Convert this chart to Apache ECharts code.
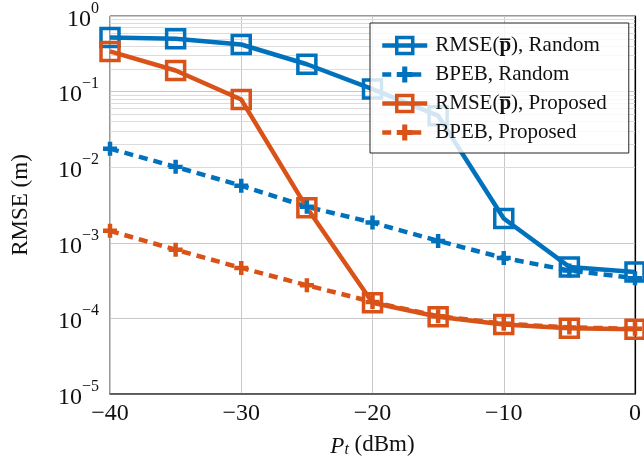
<!DOCTYPE html>
<html>
<head>
<meta charset="utf-8">
<script src="https://cdn.jsdelivr.net/npm/echarts@6/dist/echarts.min.js"></script>
<style>html,body{margin:0;padding:0;background:#fff}#c{width:644px;height:464px}</style>
</head>
<body>
<div id="c"></div>
<script>
const xValues = [-40, -35, -30, -25, -20, -15, -10, -5, 0];
const rmseRandom = [0.52, 0.50, 0.42, 0.23, 0.108, 0.048, 0.0021, 0.00048, 0.00041];
const bpebRandom = [0.0176, 0.0101, 0.0057, 0.0030, 0.00185, 0.00106, 0.00063, 0.00043, 0.00034];
const rmseProposed = [0.34, 0.19, 0.0785, 0.0029, 0.000161, 0.000105, 0.000083, 0.000074, 0.000072];
const bpebProposed = [0.00144, 0.00081, 0.000465, 0.000275, 0.000165, 0.000107, 0.000085, 0.000076, 0.000073];
const seriesNames = ['RMSE(p\u0305), Random', 'BPEB, Random', 'RMSE(p\u0305), Proposed', 'BPEB, Proposed'];
const xTicks = [-40, -30, -20, -10, 0];
const yMin = 1e-5, yMax = 1;

const FONT = 'Liberation Serif';
const BLUE = '#0072BD', ORANGE = '#D95319';
const PLUS = 'path://M0.34,0H0.66V0.34H1V0.66H0.66V1H0.34V0.66H0V0.34H0.34Z';

const minorLines = [];
for (let k = -5; k < 0; k++) {
  for (let m = 2; m <= 9; m++) minorLines.push({ yAxis: m * Math.pow(10, k) });
}
const pairs = arr => xValues.map((x, i) => [x, arr[i]]);

function mk(name, data, color, dashed) {
  return {
    name: name, type: 'line', data: pairs(data), z: 3,
    lineStyle: { color: color, width: 4.5, type: dashed ? [9, 6] : 'solid', cap: 'butt' },
    symbol: dashed ? PLUS : 'rect',
    symbolSize: dashed ? 14 : 18,
    itemStyle: dashed ? { color: color } : { color: 'rgba(255,255,255,0)', borderColor: color, borderWidth: 3.5 },
    emphasis: { disabled: true }, animation: false
  };
}

const series = [
  mk(seriesNames[0], rmseRandom, BLUE, false),
  mk(seriesNames[1], bpebRandom, BLUE, true),
  mk(seriesNames[2], rmseProposed, ORANGE, false),
  mk(seriesNames[3], bpebProposed, ORANGE, true)
];
series[0].markLine = {
  silent: true, symbol: 'none', label: { show: false }, animation: false,
  lineStyle: { color: '#dcdcdc', width: 1, type: 'solid' },
  data: minorLines, z: 1
};

const chart = echarts.init(document.getElementById('c'), null, { renderer: 'canvas' });
chart.setOption({
  animation: false,
  backgroundColor: '#fff',
  grid: { left: 110, right: 4, top: 16, bottom: 70, show: true, borderColor: '#333', borderWidth: 1, backgroundColor: 'transparent' },
  xAxis: {
    type: 'value', min: -40, max: 0, interval: 10,
    name: '{p|P}{t|t} (dBm)', nameLocation: 'middle', nameGap: 38,
    nameTextStyle: { fontFamily: FONT, fontSize: 23, color: '#111',
      rich: {
        p: { fontFamily: FONT, fontSize: 23, fontStyle: 'italic', color: '#111', verticalAlign: 'bottom', lineHeight: 26 },
        t: { fontFamily: FONT, fontSize: 16, fontStyle: 'italic', color: '#111', verticalAlign: 'bottom', lineHeight: 22 }
      } },
    axisLine: { show: true, lineStyle: { color: '#444', width: 1.5 } },
    axisTick: { show: false },
    axisLabel: { fontFamily: FONT, fontSize: 24, color: '#111', margin: 8,
      formatter: v => String(v).replace('-', '\u2212') },
    splitLine: { show: true, lineStyle: { color: '#c8c8c8', width: 1 } }
  },
  yAxis: {
    type: 'log', logBase: 10, min: yMin, max: yMax,
    name: 'RMSE (m)', nameLocation: 'middle', nameGap: 78, nameRotate: 90,
    nameTextStyle: { fontFamily: FONT, fontSize: 23, color: '#111' },
    axisLine: { show: true, lineStyle: { color: '#000', width: 1.2 } },
    axisTick: { show: false },
    axisLabel: {
      fontFamily: FONT, color: '#111', margin: 11,
      formatter: v => {
        const e = Math.round(Math.log10(v));
        return '{a|10}{s|' + (e < 0 ? '\u2212' + (-e) : String(e)) + '}';
      },
      rich: {
        a: { fontFamily: FONT, fontSize: 24, color: '#111', verticalAlign: 'bottom', lineHeight: 31 },
        s: { fontFamily: FONT, fontSize: 16, color: '#111', verticalAlign: 'top', lineHeight: 31 }
      }
    },
    splitLine: { show: true, lineStyle: { color: '#c8c8c8', width: 1 } }
  },
  legend: {
    orient: 'vertical', left: 370, top: 23,
    data: seriesNames,
    itemWidth: 45, itemHeight: 20, itemGap: 8,
    padding: [12, 22, 10, 10],
    backgroundColor: 'rgba(255,255,255,0.82)',
    borderColor: '#262626', borderWidth: 1, borderRadius: 0,
    selectedMode: false,
    lineStyle: { width: 'inherit', type: 'inherit' },
    itemStyle: { borderWidth: 'inherit' },
    textStyle: { fontFamily: FONT, fontSize: 21, color: '#111', lineHeight: 21, padding: [0, 0, 0, 3],
      rich: { b: { fontFamily: FONT, fontSize: 21, fontWeight: 'bold', color: '#111', lineHeight: 21 } } },
    formatter: n => n.replace('p\u0305', '{b|p\u0305}')
  },
  series: series
});
</script>
</body>
</html>
